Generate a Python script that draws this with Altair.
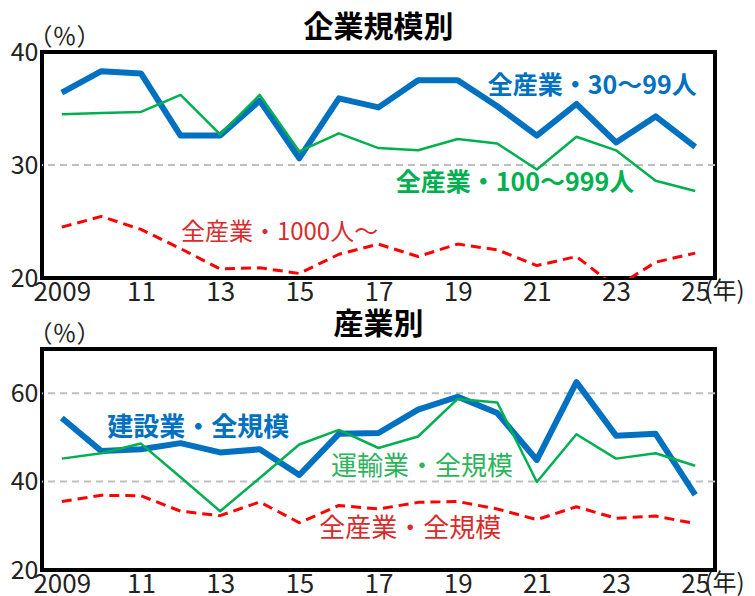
import altair as alt
import pandas as pd

FONT = "Noto Sans CJK JP"

years = list(range(2009, 2026))

# 企業規模別
top_blue = [36.4, 38.3, 38.1, 32.6, 32.6, 35.7, 30.6, 35.9, 35.1, 37.5, 37.5, 35.2, 32.6, 35.4, 32.0, 34.3, 31.6]
top_green = [34.5, 34.6, 34.7, 36.2, 32.7, 36.2, 31.2, 32.8, 31.5, 31.3, 32.3, 31.9, 29.6, 32.5, 31.3, 28.6, 27.7]
top_red = [24.5, 25.45, 24.3, 22.6, 20.8, 20.9, 20.4, 22.1, 23.0, 21.9, 23.0, 22.5, 21.1, 21.9, 19.2, 21.4, 22.2]

# 産業別
bot_blue = [54.4, 46.9, 47.3, 48.7, 46.6, 47.3, 41.5, 50.8, 51.0, 56.3, 59.2, 55.5, 44.9, 62.5, 50.4, 50.8, 37.0]
bot_green = [45.2, 46.4, 48.6, 41.0, 33.3, 40.8, 48.4, 51.7, 47.6, 50.2, 58.7, 57.9, 39.9, 50.7, 45.2, 46.4, 43.6]
bot_red = [35.5, 36.9, 36.8, 33.3, 32.3, 35.4, 30.7, 34.6, 33.8, 35.3, 35.5, 33.8, 31.4, 34.3, 31.7, 32.2, 30.5]

top_names = ["全産業・30～99人", "全産業・100～999人", "全産業・1000人～"]
bot_names = ["建設業・全規模", "運輸業・全規模", "全産業・全規模"]

x_ticks = list(range(2009, 2026, 2))

BLUE = "#0070C0"
GREEN = "#00B050"
RED = "#FF0000"


def panel(title, blue, green, red, names, ydomain, yticks, grid_vals, height, label_pos, label_styles):
    xscale = alt.Scale(domain=[2008.5, 2025.5], nice=False, zero=False)
    yscale = alt.Scale(domain=ydomain, nice=False, zero=False)
    x_axis = alt.Axis(
        values=x_ticks,
        labelExpr="datum.value == 2009 ? '2009' : substring(toString(datum.value), 2)",
        labelFontSize=26, labelFont=FONT, labelColor="#222", labelPadding=1,
        labelFlush=False, ticks=False, domain=False, grid=False,
        title="(年)", titleX=662, titleY=1, titleAlign="left", titleBaseline="top",
        titleFontSize=24, titleFont=FONT, titleFontWeight="normal", titleColor="#222",
    )
    y_axis = alt.Axis(
        values=yticks, labelFontSize=25, labelFont=FONT, labelColor="#222",
        labelPadding=4, ticks=False, domain=False, grid=False,
        title="（％）", titleAngle=0, titleX=-14, titleY=-3, titleAlign="left",
        titleBaseline="bottom", titleFontSize=24, titleFont=FONT,
        titleFontWeight="normal", titleColor="#222",
    )
    X = lambda **kw: alt.X(scale=xscale, axis=x_axis, **kw)
    Y = lambda **kw: alt.Y(scale=yscale, axis=y_axis, **kw)

    grid = alt.Chart(pd.DataFrame({"value": grid_vals})).mark_rule(
        color="#BFBFBF", strokeWidth=2, strokeDash=[7, 5]
    ).encode(y=Y(field="value", type="quantitative"))

    def line(vals, color, width, dash=None):
        df = pd.DataFrame({"year": years, "value": vals})
        kw = dict(color=color, strokeWidth=width, clip=True, strokeJoin="round")
        if dash:
            kw["strokeDash"] = dash
        return alt.Chart(df).mark_line(**kw).encode(
            x=X(field="year", type="quantitative"),
            y=Y(field="value", type="quantitative"),
        )

    layers = [grid,
              line(red, RED, 3, [10, 6]),
              line(blue, BLUE, 6),
              line(green, GREEN, 2.5)]
    for name, (px, py), (col, weight, fs) in zip(names, label_pos, label_styles):
        df = pd.DataFrame({"label": [name], "year": [px], "value": [py]})
        layers.append(
            alt.Chart(df).mark_text(
                font=FONT, fontSize=fs, fontWeight=weight, color=col,
                align="center", baseline="middle",
            ).encode(x=X(field="year", type="quantitative"),
                     y=Y(field="value", type="quantitative"),
                     text="label:N")
        )
    return alt.layer(*layers).properties(
        width=673, height=height,
        title=alt.TitleParams(title, font=FONT, fontSize=30, fontWeight="bold",
                              color="black", anchor="middle", offset=-18),
    )


top = panel(
    "企業規模別", top_blue, top_green, top_red, top_names,
    [20, 40], [20, 30, 40], [30], 226,
    [(2022.4, 37.0), (2020.45, 28.45), (2014.5, 24.0)],
    [(BLUE, "bold", 25), (GREEN, "bold", 25), ("#D92B2B", "normal", 24)],
)
bottom = panel(
    "産業別", bot_blue, bot_green, bot_red, bot_names,
    [20, 70], [20, 40, 60], [40, 60], 221,
    [(2012.45, 52.2), (2018.1, 43.3), (2017.8, 29.2)],
    [(BLUE, "bold", 26), ("#2DB35C", "normal", 26), ("#D92B2B", "normal", 26)],
)

chart = alt.vconcat(top, bottom, spacing=1).properties(
    padding={"left": 0, "top": 3, "right": 0, "bottom": 0}
).configure_view(stroke="black", strokeWidth=4)

chart.save("out.html", embed_options={"renderer": "svg", "actions": False})
